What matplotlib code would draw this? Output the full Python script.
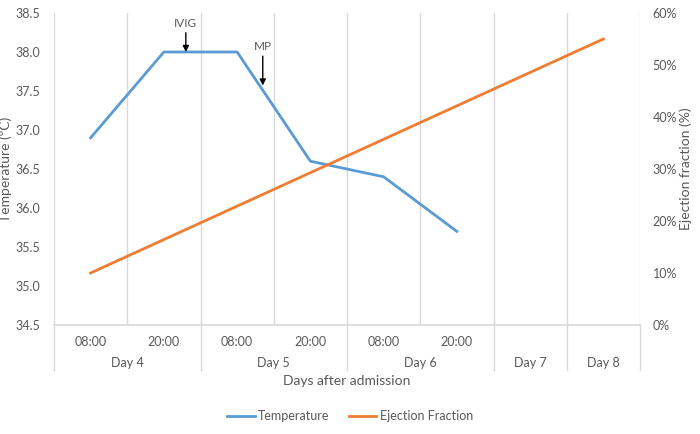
import numpy as np
import matplotlib.pyplot as plt
import matplotlib.transforms as mtransforms
from matplotlib.ticker import FuncFormatter

plt.rcParams['font.family'] = ['Lato', 'DejaVu Sans']

# data
hours = ['08:00', '20:00', '08:00', '20:00', '08:00', '20:00', '', '']
days = ['Day 4', 'Day 5', 'Day 6', 'Day 7', 'Day 8']
day_slots = [2, 2, 2, 1, 1]
temperature = [36.9, 38.0, 38.0, 36.6, 36.4, 35.7, None, None]
ejection = [0.10, None, None, None, None, None, None, 0.55]
events = ['IVIG', 'MP']
event_pos = [1.3, 2.35]

grey = '#595959'
grid_c = '#D9D9D9'
blue = '#5B9BD5'
orange = '#ED7D31'

fig = plt.figure(figsize=(7, 4.34), dpi=100)
ax = fig.add_axes([54/700, 1-325/434, (640-54)/700, (325-13)/434])
ax2 = ax.twinx()

x = np.arange(len(hours))
t = np.array([np.nan if v is None else v for v in temperature])
e = np.array([np.nan if v is None else v for v in ejection])
mt = ~np.isnan(t)
me = ~np.isnan(e)

ln1, = ax.plot(x[mt], t[mt], color=blue, lw=2, label='Temperature', zorder=3)
ln2, = ax2.plot(x[me], e[me], color=orange, lw=2, label='Ejection Fraction', zorder=3)

ax.set_xlim(-0.5, len(hours)-0.5)
ax.set_ylim(34.5, 38.5)
ax.set_yticks(np.arange(34.5, 38.51, 0.5))
ax.yaxis.set_major_formatter(FuncFormatter(lambda v, p: f'{v:.1f}'))
ax2.set_ylim(0, 0.6)
ax2.set_yticks(np.arange(0, 0.61, 0.1))
ax2.yaxis.set_major_formatter(FuncFormatter(lambda v, p: f'{v*100:.0f}%'))

for a in (ax, ax2):
    for s in a.spines.values():
        s.set_visible(False)
    a.tick_params(length=0, colors=grey, labelsize=9)
ax.tick_params(axis='y', pad=10)
ax2.tick_params(axis='y', pad=9)

# vertical gridlines at slot boundaries
for b in np.arange(-0.5, len(hours), 1.0):
    ax.axvline(b, color=grid_c, lw=1, zorder=0)
ax.axhline(34.5, color=grid_c, lw=1.2, zorder=1, clip_on=False)

ax.set_xticks(x)
ax.set_xticklabels(hours)
ax.tick_params(axis='x', pad=8)

# day labels and separators
trans = mtransforms.blended_transform_factory(ax.transData, ax.transAxes)
start = -0.5
ax.plot([start, start], [0, -0.145], color=grid_c, lw=1, transform=trans, clip_on=False)
for d, n in zip(days, day_slots):
    ax.text(start + n/2, -0.122, d, transform=trans, ha='center', va='center', color=grey, fontsize=9)
    start += n
    ax.plot([start, start], [0, -0.145], color=grid_c, lw=1, transform=trans, clip_on=False)

ax.text(0.5, -0.18, 'Days after admission', transform=ax.transAxes, ha='center', va='center',
        color=grey, fontsize=10)
ax.set_ylabel('Temperature (ºC)', color=grey, fontsize=10, labelpad=2)
ax2.set_ylabel('Ejection fraction (%)', color=grey, fontsize=10, labelpad=2)

# event arrows
ax.annotate(events[0], xy=(event_pos[0], 38.0), xytext=(event_pos[0], 38.3),
            ha='center', va='bottom', fontsize=8.5, color=grey,
            arrowprops=dict(arrowstyle='-|>', color='black', lw=1, mutation_scale=9,
                            shrinkA=1, shrinkB=0))
ax.annotate(events[1], xy=(event_pos[1], 37.57), xytext=(event_pos[1], 38.0),
            ha='center', va='bottom', fontsize=8.5, color=grey,
            arrowprops=dict(arrowstyle='-|>', color='black', lw=1, mutation_scale=9,
                            shrinkA=1, shrinkB=0))

fig.legend(handles=[ln1, ln2], loc='center', bbox_to_anchor=(0.5, 1-416/434), ncol=2,
           frameon=False, fontsize=9, labelcolor=grey, handlelength=2.2,
           handletextpad=0.3, columnspacing=1.5)

fig.savefig('out.png', dpi=100)
